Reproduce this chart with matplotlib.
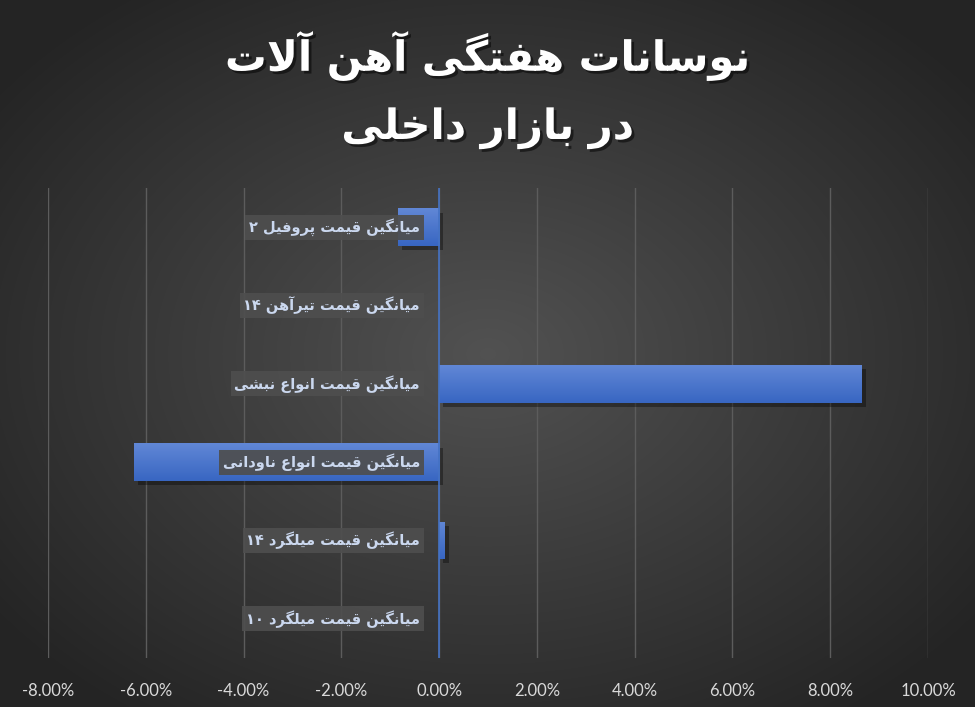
import numpy as np
import matplotlib
matplotlib.use("Agg")
import matplotlib.pyplot as plt
import matplotlib.patheffects as pe
from matplotlib import font_manager
from matplotlib.ticker import PercentFormatter

# data (top to bottom as in the chart)
categories = [
    "میانگین قیمت پروفیل ۲",
    "میانگین قیمت تیرآهن ۱۴",
    "میانگین قیمت انواع نبشی",
    "میانگین قیمت انواع ناودانی",
    "میانگین قیمت میلگرد ۱۴",
    "میانگین قیمت میلگرد ۱۰",
]
values = [-0.84, 0.0, 8.65, -6.24, 0.11, 0.0]
ticks = [-8, -6, -4, -2, 0, 2, 4, 6, 8, 10]
title_lines = ["نوسانات هفتگی آهن آلات", "در بازار داخلی"]

# minimal persian shaping (isolated, final, initial, medial)
FORMS = {
    'ا': ('\uFE8D', '\uFE8E', None, None),
    'آ': ('\uFE81', '\uFE82', None, None),
    'ب': ('\uFE8F', '\uFE90', '\uFE91', '\uFE92'),
    'پ': ('\uFB56', '\uFB57', '\uFB58', '\uFB59'),
    'ت': ('\uFE95', '\uFE96', '\uFE97', '\uFE98'),
    'خ': ('\uFEA5', '\uFEA6', '\uFEA7', '\uFEA8'),
    'د': ('\uFEA9', '\uFEAA', None, None),
    'ر': ('\uFEAD', '\uFEAE', None, None),
    'ز': ('\uFEAF', '\uFEB0', None, None),
    'س': ('\uFEB1', '\uFEB2', '\uFEB3', '\uFEB4'),
    'ش': ('\uFEB5', '\uFEB6', '\uFEB7', '\uFEB8'),
    'ع': ('\uFEC9', '\uFECA', '\uFECB', '\uFECC'),
    'ف': ('\uFED1', '\uFED2', '\uFED3', '\uFED4'),
    'ق': ('\uFED5', '\uFED6', '\uFED7', '\uFED8'),
    'گ': ('\uFB92', '\uFB93', '\uFB94', '\uFB95'),
    'ل': ('\uFEDD', '\uFEDE', '\uFEDF', '\uFEE0'),
    'م': ('\uFEE1', '\uFEE2', '\uFEE3', '\uFEE4'),
    'ن': ('\uFEE5', '\uFEE6', '\uFEE7', '\uFEE8'),
    'ه': ('\uFEE9', '\uFEEA', '\uFEEB', '\uFEEC'),
    'و': ('\uFEED', '\uFEEE', None, None),
    'ی': ('\uFBFC', '\uFBFD', '\uFBFE', '\uFBFF'),
}
LAM_ALEF = {'ا': ('\uFEFB', '\uFEFC'), 'آ': ('\uFEF5', '\uFEF6')}


def joins_left(c):
    return c in FORMS and FORMS[c][2] is not None


def shape_word(word):
    out = []
    i = 0
    n = len(word)
    while i < n:
        c = word[i]
        if c not in FORMS:
            out.append(c)
            i += 1
            continue
        prev = word[i - 1] if i > 0 else None
        nxt = word[i + 1] if i + 1 < n else None
        jp = prev is not None and joins_left(prev)
        if c == 'ل' and nxt in LAM_ALEF:
            out.append(LAM_ALEF[nxt][1 if jp else 0])
            i += 2
            continue
        jn = joins_left(c) and nxt in FORMS
        iso, fin, ini, med = FORMS[c]
        if jp and jn:
            out.append(med)
        elif jp:
            out.append(fin)
        elif jn:
            out.append(ini)
        else:
            out.append(iso)
        i += 1
    return out


def rtl(text):
    words = []
    for w in text.split(' '):
        if any(ch in FORMS for ch in w):
            words.append(''.join(reversed(shape_word(w))))
        else:
            words.append(w)
    return ' '.join(reversed(words))


installed = {f.name for f in font_manager.fontManager.ttflist}
tick_font = 'Liberation Sans Narrow' if 'Liberation Sans Narrow' in installed else 'Lato'
plt.rcParams['axes.unicode_minus'] = False

W, H = 975, 707
fig = plt.figure(figsize=(W / 100, H / 100), dpi=100)

# radial gradient background
bg = fig.add_axes([0, 0, 1, 1], zorder=-10)
yy, xx = np.mgrid[0:H, 0:W]
r = np.sqrt(((xx - W * 0.5) / (W * 0.62)) ** 2 + ((yy - H * 0.5) / (H * 0.62)) ** 2)
r = np.clip(r, 0, 1)
c0 = np.array([0.32, 0.32, 0.32])
c1 = np.array([0.145, 0.145, 0.145])
img = c0[None, None, :] * (1 - r[..., None]) + c1[None, None, :] * r[..., None]
bg.imshow(img, aspect='auto', extent=[0, 1, 0, 1])
bg.axis('off')

ax = fig.add_axes([48 / W, 1 - 658 / H, (928 - 48) / W, (658 - 188) / H])
ax.patch.set_alpha(0)

y = np.arange(len(categories))
shadow = [pe.SimplePatchShadow(offset=(3, -3), shadow_rgbFace='black', alpha=0.35), pe.Normal()]
bars = ax.barh(y, values, height=0.48, color='#4472c4', zorder=3, path_effects=shadow)

# vertical gradient on each bar
grad = np.linspace(0, 1, 64)[:, None]
top = np.array([0.38, 0.53, 0.84])
bot = np.array([0.22, 0.40, 0.76])
gimg = top[None, None, :] * (1 - grad[..., None]) + bot[None, None, :] * grad[..., None]
for b in bars:
    x0, y0 = b.get_x(), b.get_y()
    w, h = b.get_width(), b.get_height()
    if abs(w) < 1e-9:
        continue
    im = ax.imshow(gimg, aspect='auto', extent=[x0, x0 + w, y0 + h, y0],
                   zorder=4, interpolation='bilinear')
    im.set_clip_path(b)

ax.set_xlim(-8, 10)
ax.set_ylim(len(categories) - 0.5, -0.5)
ax.set_xticks(ticks)
ax.xaxis.set_major_formatter(PercentFormatter(decimals=2))
ax.grid(axis='x', color='#5c5c5c', linewidth=1, zorder=0)
ax.axvline(0, color='#4472c4', linewidth=1.2, zorder=5)
ax.set_yticks([])
for s in ax.spines.values():
    s.set_visible(False)
ax.tick_params(axis='x', length=0, pad=18, labelsize=12, labelcolor='#d9d9d9')
for t in ax.get_xticklabels():
    t.set_family([tick_font, 'DejaVu Sans'])

# category labels drawn next to the zero line
for yi, cat in zip(y, categories):
    ax.annotate(rtl(cat), xy=(0, yi), xytext=(-19, 0), textcoords='offset pixels',
                ha='right', va='center', fontsize=10.5, fontweight='bold',
                color='#cbd8ef', family='DejaVu Sans', zorder=6,
                bbox=dict(boxstyle='square,pad=0.25', fc='#4e4e4e', ec='none', alpha=0.92))

# title
for i, line in enumerate(title_lines):
    fig.text(0.5, 1 - (56 + i * 72) / H, rtl(line), ha='center', va='center',
             fontsize=30, fontweight='bold', color='white', family='DejaVu Sans',
             path_effects=[pe.withSimplePatchShadow(offset=(2, -2), shadow_rgbFace='black', alpha=0.5)])

fig.savefig('out.png', dpi=100)
